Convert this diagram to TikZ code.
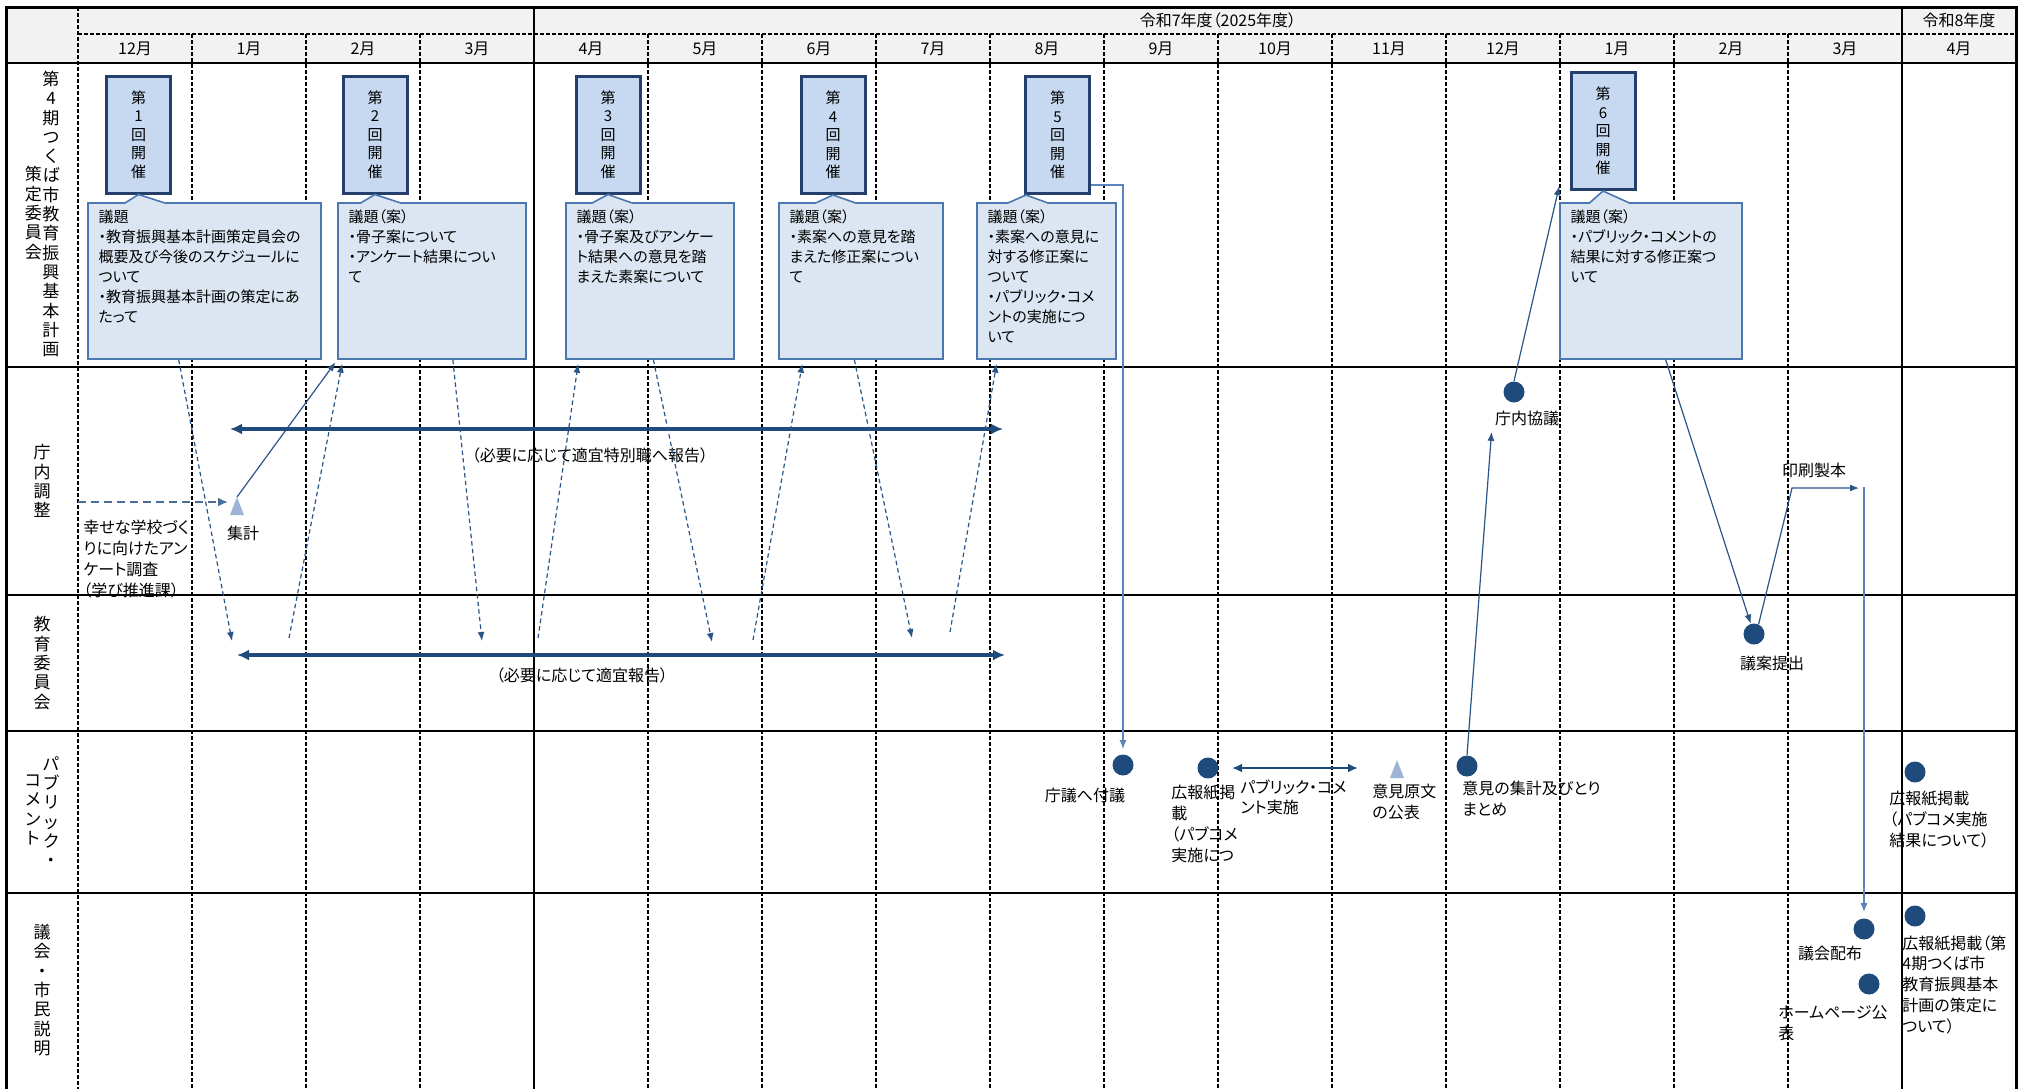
\documentclass[tikz,border=0pt]{standalone}
\usepackage{fontspec}
\setmainfont[CharacterWidth=AlternateProportional]{Noto Sans CJK JP}
\usepackage{xcolor}
\definecolor{cHead}{HTML}{F2F2F2}
\definecolor{cMeet}{HTML}{C6D9F1}
\definecolor{cMeetLine}{HTML}{243F6B}
\definecolor{cAgenda}{HTML}{DCE6F2}
\definecolor{cAgendaLine}{HTML}{4A78B0}
\definecolor{cNavy}{HTML}{1F4A7C}
\definecolor{cLink}{HTML}{2A5588}
\definecolor{cLight}{HTML}{5B84BD}
\definecolor{cTri}{HTML}{9DB4D6}
\usepackage{tikz}
\usetikzlibrary{positioning,arrows.meta,shapes.callouts,calc}
\tikzset{
  grid-frame/.style={line width=1.5pt,draw=black},
  grid-solid/.style={line width=1.2pt,draw=black},
  grid-dash/.style={line width=0.75pt,draw=black,dash pattern=on 2pt off 1pt},
  row-label/.style={align=center,inner sep=0pt,font=\fontsize{8.5pt}{9.65pt}\selectfont},
  month-label/.style={inner sep=0pt,font=\fontsize{8pt}{10pt}\selectfont},
  meet-box/.style={draw=cMeetLine,line width=1.5pt,fill=cMeet,minimum width=32pt,
    minimum height=58.5pt,inner sep=0pt,align=center,font=\fontsize{7.5pt}{9.25pt}\selectfont},
  agenda-box/.style={rectangle callout,draw=cAgendaLine,line width=0.8pt,fill=cAgenda,
    minimum height=78pt,callout pointer width=20pt},
  agenda-text/.style={anchor=north west,align=left,inner xsep=5.5pt,inner ysep=3.5pt,
    font=\fontsize{7.5pt}{10pt}\selectfont},
  evt-dot/.style={circle,fill=cNavy,minimum size=10.5pt,inner sep=0pt},
  evt-label/.style={inner sep=0pt,align=left,font=\fontsize{8pt}{10.4pt}\selectfont},
  tri-mark/.style={fill=cTri},
  arrow-thin/.style={-{Latex[length=4.5pt,width=3.5pt]},line width=0.6pt,draw=cLink},
  arrow-light/.style={-{Latex[length=4.5pt,width=3.5pt]},line width=0.6pt,draw=cLight},
  arrow-dash/.style={arrow-thin,dash pattern=on 2.2pt off 1.6pt},
  arrow-survey/.style={-{Latex[length=5pt,width=4.5pt]},line width=1pt,draw=cLink!85,
    dash pattern=on 4pt off 2.5pt},
  arrow-wide/.style={{Latex[length=6pt,width=5.5pt]}-{Latex[length=6pt,width=5.5pt]},
    line width=1.6pt,draw=cNavy},
  arrow-pc/.style={{Latex[length=5pt,width=4.5pt]}-{Latex[length=5pt,width=4.5pt]},
    line width=1.3pt,draw=cNavy},
}

\begin{document}
\begin{tikzpicture}[x=0.5pt,y=-0.5pt]
  \fill[white] (0,0) rectangle (2024,1089);
  \useasboundingbox (0,0) rectangle (2024,1089);

  % grid
  \fill[cHead] (6,7) rectangle (2016,63);
  \foreach \i in {1,2,3,5,6,...,15}
    \draw[grid-dash] ({78+114*\i},34) -- ({78+114*\i},1089);
  \draw[grid-dash] (78,7) -- (78,1089);
  \draw[grid-dash] (78,34) -- (2016,34);
  \draw[grid-solid,line width=1pt] (534,7) -- (534,1089);
  \draw[grid-solid,line width=1pt] (1902,7) -- (1902,1089);
  \foreach \y in {63,367,595,731,893}
    \draw[grid-solid] (6,\y) -- (2016,\y);
  \draw[grid-frame] (6,1089) -- (6,7) -- (2016,7) -- (2016,1089);

  % header
  \node[month-label] (fy7) at (1218,20.5) {令和7年度（2025年度）};
  \node[month-label] (fy8) at (1959,20.5) {令和8年度};
  \foreach \m [count=\k from 0] in {12,1,2,3,4,5,6,7,8,9,10,11,12,1,2,3,4}
    \node[month-label] (mon-\k) at ({135+114*\k},48.5) {\m 月};

  % row labels
  \node[row-label] (row-plan-a) at (51,214) {第\\4\\期\\つ\\く\\ば\\市\\教\\育\\振\\興\\基\\本\\計\\画};
  \node[row-label] (row-plan-b) at (33.5,213) {策\\定\\委\\員\\会};
  \node[row-label] (row-office) at (42,481) {庁\\内\\調\\整};
  \node[row-label] (row-board) at (42,663) {教\\育\\委\\員\\会};
  \node[row-label] (row-pc-a) at (51,811.5) {パ\\ブ\\リ\\ッ\\ク\\・};
  \node[row-label] (row-pc-b) at (33,810) {コ\\メ\\ン\\ト};
  \node[row-label] (row-council) at (42,990) {議\\会\\・\\市\\民\\説\\明};

  % meetings
  \node[meet-box] (m1) at (138.5,134.5) {第\\1\\回\\開\\催};
  \node[meet-box] (m2) at (375,134.5) {第\\2\\回\\開\\催};
  \node[meet-box] (m3) at (608,134.5) {第\\3\\回\\開\\催};
  \node[meet-box] (m4) at (833,135) {第\\4\\回\\開\\催};
  \node[meet-box] (m5) at (1057.5,135) {第\\5\\回\\開\\催};
  \node[meet-box] (m6) at (1603,131) {第\\6\\回\\開\\催};

  % agendas
  \node[agenda-box,minimum width=116.5pt,callout absolute pointer={(m1.south)}] (c1) at (204.5,281) {};
  \node[agenda-text] (c1-text) at (c1.north west) {議題\\・教育振興基本計画策定員会の\\概要及び今後のスケジュールに\\ついて\\・教育振興基本計画の策定にあ\\たって};
  \node[agenda-box,minimum width=94pt,callout absolute pointer={(m2.south)}] (c2) at (432,281) {};
  \node[agenda-text] (c2-text) at (c2.north west) {議題（案）\\・骨子案について\\・アンケート結果につい\\て};
  \node[agenda-box,minimum width=84pt,callout absolute pointer={(m3.south)}] (c3) at (650,281) {};
  \node[agenda-text] (c3-text) at (c3.north west) {議題（案）\\・骨子案及びアンケー\\ト結果への意見を踏\\まえた素案について};
  \node[agenda-box,minimum width=82pt,callout absolute pointer={(m4.south)}] (c4) at (861,281) {};
  \node[agenda-text] (c4-text) at (c4.north west) {議題（案）\\・素案への意見を踏\\まえた修正案につい\\て};
  \node[agenda-box,minimum width=69.5pt,callout absolute pointer={($(m5.south west)+(1pt,0)$)}] (c5) at (1046.5,281) {};
  \node[agenda-text] (c5-text) at (c5.north west) {議題（案）\\・素案への意見に\\対する修正案に\\ついて\\・パブリック・コメ\\ントの実施につ\\いて};
  \node[agenda-box,minimum width=91pt,callout absolute pointer={(m6.south)}] (c6) at (1651,281) {};
  \node[agenda-text] (c6-text) at (c6.north west) {議題（案）\\・パブリック・コメントの\\結果に対する修正案つ\\いて};

  % survey and tally
  \coordinate (survey-start) at (78,502);
  \coordinate (shukei) at (237,497);
  \fill[tri-mark] (shukei) -- ++(-7,18) -- ++(14,0) -- cycle;
  \node[evt-label] (shukei-lbl) at (243,533) {集計};
  \node[evt-label,anchor=north west] (survey-lbl) at (83,520) {幸せな学校づく\\りに向けたアン\\ケート調査\\（学び推進課）};
  \draw[arrow-survey,shorten >=4.5pt] (survey-start) -- (survey-start -| shukei);
  \draw[arrow-thin,shorten >=1.5pt] (shukei) -- (c2.south west);

  % report arrows
  \coordinate (tokubetsu-l) at (230,429);
  \coordinate (tokubetsu-r) at (1003,429);
  \draw[arrow-wide] (tokubetsu-l) -- (tokubetsu-r);
  \node[evt-label] (tokubetsu-lbl) at (590,455) {（必要に応じて適宜特別職へ報告）};
  \coordinate (hokoku-l) at (237,655);
  \coordinate (hokoku-r) at (1005,655);
  \draw[arrow-wide] (hokoku-l) -- (hokoku-r);
  \node[evt-label] (hokoku-lbl) at (582,675) {（必要に応じて適宜報告）};

  % board round trips
  \coordinate (z1) at (232,641);
  \coordinate (z2) at (289,638);
  \coordinate (z3) at (482,641);
  \coordinate (z4) at (538,638);
  \coordinate (z5) at (712,642);
  \coordinate (z6) at (753,640);
  \coordinate (z7) at (912,638);
  \coordinate (z8) at (950,632);
  \draw[arrow-dash] ($(c1.south west)!0.39!(c1.south east)$) -- (z1);
  \draw[arrow-dash,shorten >=2pt] (z2) -- ($(c2.south west)!0.03!(c2.south east)$);
  \draw[arrow-dash] ($(c2.south west)!0.61!(c2.south east)$) -- (z3);
  \draw[arrow-dash,shorten >=2pt] (z4) -- ($(c3.south west)!0.08!(c3.south east)$);
  \draw[arrow-dash] ($(c3.south west)!0.52!(c3.south east)$) -- (z5);
  \draw[arrow-dash,shorten >=2pt] (z6) -- ($(c4.south west)!0.15!(c4.south east)$);
  \draw[arrow-dash] ($(c4.south west)!0.46!(c4.south east)$) -- (z7);
  \draw[arrow-dash,shorten >=2pt] (z8) -- ($(c5.south west)!0.15!(c5.south east)$);

  % public comment
  \node[evt-dot] (chogi) at (1123,765) {};
  \node[evt-label] (chogi-lbl) at (1085,795) {庁議へ付議};
  \node[evt-dot] (koho1) at (1208,768) {};
  \node[evt-label,anchor=north west] (koho1-lbl) at (1171,785) {広報紙掲\\載\\（パブコメ\\実施につ};
  \coordinate (pc-l) at (1232,768);
  \coordinate (pc-r) at (1358,768);
  \draw[arrow-pc] (pc-l) -- (pc-r);
  \node[evt-label,anchor=north west] (pc-lbl) at (1240,779) {パブリック・コメ\\ント実施};
  \coordinate (genbun) at (1397,760);
  \fill[tri-mark] (genbun) -- ++(-7,18) -- ++(14,0) -- cycle;
  \node[evt-label,anchor=north west] (genbun-lbl) at (1372,784) {意見原文\\の公表};
  \node[evt-dot] (iken) at (1467,766) {};
  \node[evt-label,anchor=north west] (iken-lbl) at (1462,781) {意見の集計及びとり\\まとめ};
  \node[evt-dot] (kohokekka) at (1915,772) {};
  \node[evt-label,anchor=north west] (kohokekka-lbl) at (1889,791) {広報紙掲載\\（パブコメ実施\\結果について）};
  \draw[arrow-light,shorten >=2.5pt] ($(m5.south east)+(0,5pt)$) -| (chogi.north);

  % internal review and proposal
  \node[evt-dot] (kyogi) at (1514,392) {};
  \node[evt-label] (kyogi-lbl) at (1527,418) {庁内協議};
  \draw[arrow-thin] (iken.north) -- ($(kyogi-lbl.south west)+(-1.5pt,-3pt)$);
  \draw[arrow-thin] (kyogi.north) -- ($(c6.north west)+(0,8pt)$);
  \node[evt-dot] (gian) at (1754,634) {};
  \node[evt-label] (gian-lbl) at (1772,663) {議案提出};
  \draw[arrow-thin] ($(c6.south west)!0.58!(c6.south east)$) -- (gian);
  \coordinate (print-bend) at (1792,488);
  \coordinate (print-end) at (1859,488);
  \coordinate (print-top) at (1864,487);
  \node[evt-label] (print-lbl) at (1814,470) {印刷製本};
  \draw[arrow-thin] (gian.65) -- (print-bend) -- (print-end);

  % council and citizens
  \node[evt-dot] (haifu) at (1864,929) {};
  \node[evt-label] (haifu-lbl) at (1830,953) {議会配布};
  \draw[arrow-light,shorten >=3pt] (print-top) -- (haifu.north);
  \node[evt-dot] (hp) at (1869,984) {};
  \node[evt-label,anchor=north west] (hp-lbl) at (1778,1005) {ホームページ公\\表};
  \node[evt-dot] (kohosakutei) at (1915,916) {};
  \node[evt-label,anchor=north west] (kohosakutei-lbl) at (1902,935) {広報紙掲載（第\\4期つくば市\\教育振興基本\\計画の策定に\\ついて）};
\end{tikzpicture}
\end{document}
